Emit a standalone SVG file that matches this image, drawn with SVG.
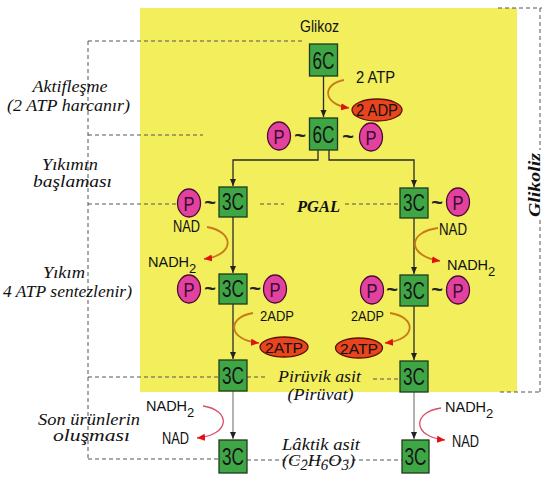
<svg xmlns="http://www.w3.org/2000/svg" width="545" height="490" viewBox="0 0 545 490">
<defs>
<style>
.sans{font-family:"Liberation Sans",Arial,sans-serif;fill:#111}
.nh{font-family:"Liberation Sans",Arial,sans-serif;fill:#111;font-size:14.5px}
.it{font-family:"Liberation Serif","Times New Roman",serif;font-style:italic;fill:#111;font-size:17px}
.box{fill:#3fa646;stroke:#1c3a1c;stroke-width:1.3}
.boxt{font-family:"Liberation Sans",Arial,sans-serif;font-size:23px;fill:#151515;text-anchor:middle}
.p{fill:#e2429e;stroke:#4a0c36;stroke-width:1.3}
.pt{font-family:"Liberation Sans",Arial,sans-serif;font-size:21px;fill:#3a0a30;text-anchor:middle}
.tl{font-family:"Liberation Sans",Arial,sans-serif;font-size:20px;font-weight:bold;fill:#222;text-anchor:middle}
.red{fill:#e8441e;stroke:#5a1208;stroke-width:1.3}
.dash{fill:none;stroke:#555;stroke-width:1;stroke-dasharray:4 3}
.arr{fill:none;stroke:#2a2a2a;stroke-width:1.3;marker-end:url(#ad)}
.arrg{fill:none;stroke:#666;stroke-width:1;marker-end:url(#ad)}
.cur{fill:none;stroke:#c77a17;stroke-width:1.8;marker-end:url(#ar)}
.curp{fill:none;stroke:#d8506a;stroke-width:1.3;marker-end:url(#ar)}
</style>
<marker id="ad" markerWidth="8" markerHeight="8" refX="7" refY="4" orient="auto" markerUnits="userSpaceOnUse"><path d="M0,1 L7,4 L0,7 z" fill="#222"/></marker>
<marker id="ar" markerWidth="9" markerHeight="9" refX="8" refY="4.5" orient="auto" markerUnits="userSpaceOnUse"><path d="M0,1 L8,4.5 L0,8 z" fill="#e41010"/></marker>
</defs>
<rect width="545" height="490" fill="#ffffff"/>
<rect x="140" y="8" width="377" height="384" fill="#f2ee5c"/>

<g id="guides">
<path class="dash" d="M88,41 H303 M88,41 V459 M88,135 H203 M88,204 H177 M260,204 H284 M345,204 H399 M88,377 H219 M247,377 H268 M373,379 H400 M88,459 H219 M247,460 H402"/>
<path class="dash" d="M498,8 H542 M540,8 V150 M540,220 V392 M500,392 H542"/>
</g>

<g id="connectors">
<path class="arr" d="M323.5,76 V117"/>
<path class="arr" d="M318,150 V160 H233 V186"/>
<path class="arr" d="M329,150 V160 H414 V187"/>
<path class="arr" d="M233,217 V273"/>
<path class="arr" d="M414,218 V274"/>
<path class="arr" d="M233,304 V359"/>
<path class="arr" d="M414,306 V360"/>
<path class="arrg" d="M233,391 V439"/>
<path class="arrg" d="M414,392 V439"/>
<path class="cur" d="M344,80 C322,84 322,104 349,108"/>
<path class="cur" d="M207,227 C235,232 235,255 204,259"/>
<path class="cur" d="M438,228 C407,232 407,256 440,261"/>
<path class="cur" d="M253,313 C227,317 227,340 259,343"/>
<path class="cur" d="M390,313 C417,317 417,340 385,343"/>
<path class="curp" d="M203,406 C231,410 231,435 197,438"/>
<path class="curp" d="M441,408 C412,412 412,437 445,440"/>
</g>

<g id="glikoz">
<text class="sans" x="319.5" y="32" font-size="16" text-anchor="middle" textLength="39" lengthAdjust="spacingAndGlyphs">Glikoz</text>
<rect class="box" x="309.5" y="44" width="28" height="32"/>
<text class="boxt" x="323.5" y="68.5" textLength="22" lengthAdjust="spacingAndGlyphs">6C</text>
</g>

<g id="atp-in">
<text class="sans" x="375.5" y="83" font-size="17" text-anchor="middle" textLength="39" lengthAdjust="spacingAndGlyphs">2 ATP</text>
<ellipse class="red" cx="377" cy="110" rx="25" ry="11"/>
<text class="sans" x="377" y="116" font-size="16" text-anchor="middle" textLength="42" lengthAdjust="spacingAndGlyphs">2 ADP</text>
</g>

<g id="fructose">
<ellipse class="p" cx="279" cy="136" rx="11.5" ry="14"/>
<text class="pt" x="279" y="143.5" textLength="11" lengthAdjust="spacingAndGlyphs">P</text>
<text class="tl" x="300" y="142">~</text>
<rect class="box" x="309.5" y="118" width="28" height="32"/>
<text class="boxt" x="323.5" y="142.5" textLength="22" lengthAdjust="spacingAndGlyphs">6C</text>
<text class="tl" x="348" y="143">~</text>
<ellipse class="p" cx="371" cy="137" rx="11.5" ry="14"/>
<text class="pt" x="371" y="144.5" textLength="11" lengthAdjust="spacingAndGlyphs">P</text>
</g>

<g id="pgal-left">
<ellipse class="p" cx="189" cy="203" rx="11.5" ry="14"/>
<text class="pt" x="189" y="210.5" textLength="11" lengthAdjust="spacingAndGlyphs">P</text>
<text class="tl" x="210" y="209">~</text>
<rect class="box" x="219" y="187" width="28" height="30"/>
<text class="boxt" x="233" y="210" textLength="22" lengthAdjust="spacingAndGlyphs">3C</text>
</g>

<g id="pgal-label">
<text class="it" x="318.5" y="212" text-anchor="middle" font-weight="bold" textLength="43" lengthAdjust="spacingAndGlyphs">PGAL</text>
</g>

<g id="pgal-right">
<rect class="box" x="400" y="188" width="28" height="30"/>
<text class="boxt" x="414" y="211" textLength="22" lengthAdjust="spacingAndGlyphs">3C</text>
<text class="tl" x="437" y="209">~</text>
<ellipse class="p" cx="458" cy="202" rx="11.5" ry="14"/>
<text class="pt" x="458" y="209.5" textLength="11" lengthAdjust="spacingAndGlyphs">P</text>
</g>

<g id="nad-left">
<text class="sans" x="173" y="232" font-size="16" textLength="27" lengthAdjust="spacingAndGlyphs">NAD</text>
<text class="nh" x="148" y="267">NADH<tspan dy="6" font-size="13">2</tspan></text>
</g>
<g id="nad-right">
<text class="sans" x="439" y="235" font-size="16" textLength="28" lengthAdjust="spacingAndGlyphs">NAD</text>
<text class="nh" x="447" y="270">NADH<tspan dy="6" font-size="13">2</tspan></text>
</g>

<g id="bpg-left">
<ellipse class="p" cx="189" cy="289" rx="11.5" ry="14"/>
<text class="pt" x="189" y="296.5" textLength="11" lengthAdjust="spacingAndGlyphs">P</text>
<text class="tl" x="210" y="295">~</text>
<rect class="box" x="219" y="274" width="28" height="30"/>
<text class="boxt" x="233" y="297" textLength="22" lengthAdjust="spacingAndGlyphs">3C</text>
<text class="tl" x="255" y="295">~</text>
<ellipse class="p" cx="275" cy="289" rx="11.5" ry="14"/>
<text class="pt" x="275" y="296.5" textLength="11" lengthAdjust="spacingAndGlyphs">P</text>
</g>

<g id="bpg-right">
<ellipse class="p" cx="372" cy="290" rx="11.5" ry="14"/>
<text class="pt" x="372" y="297.5" textLength="11" lengthAdjust="spacingAndGlyphs">P</text>
<text class="tl" x="392" y="296">~</text>
<rect class="box" x="400" y="275" width="28" height="31"/>
<text class="boxt" x="414" y="298.5" textLength="22" lengthAdjust="spacingAndGlyphs">3C</text>
<text class="tl" x="437" y="296">~</text>
<ellipse class="p" cx="458" cy="290" rx="11.5" ry="14"/>
<text class="pt" x="458" y="297.5" textLength="11" lengthAdjust="spacingAndGlyphs">P</text>
</g>

<g id="atp-left">
<text class="sans" x="260" y="321" font-size="15" textLength="34" lengthAdjust="spacingAndGlyphs">2ADP</text>
<ellipse class="red" cx="284" cy="347" rx="24" ry="10"/>
<text class="sans" x="284" y="353" font-size="15" text-anchor="middle" textLength="38" lengthAdjust="spacingAndGlyphs">2ATP</text>
</g>
<g id="atp-right">
<text class="sans" x="351" y="321" font-size="15" textLength="33" lengthAdjust="spacingAndGlyphs">2ADP</text>
<ellipse class="red" cx="359" cy="348" rx="23.5" ry="10"/>
<text class="sans" x="359" y="354" font-size="15" text-anchor="middle" textLength="38" lengthAdjust="spacingAndGlyphs">2ATP</text>
</g>

<g id="pyruvate">
<rect class="box" x="219" y="360" width="28" height="31"/>
<text class="boxt" x="233" y="383.5" textLength="22" lengthAdjust="spacingAndGlyphs">3C</text>
<text class="it" x="319.5" y="382" text-anchor="middle" textLength="83" lengthAdjust="spacingAndGlyphs">Pirüvik asit</text>
<text class="it" x="320.5" y="400" text-anchor="middle" textLength="66" lengthAdjust="spacingAndGlyphs">(Pirüvat)</text>
<rect class="box" x="400" y="361" width="28" height="31"/>
<text class="boxt" x="414" y="384.5" textLength="22" lengthAdjust="spacingAndGlyphs">3C</text>
</g>

<g id="nadh-bottom">
<text class="nh" x="146" y="411">NADH<tspan dy="6" font-size="13">2</tspan></text>
<text class="sans" x="162" y="444" font-size="16" textLength="27" lengthAdjust="spacingAndGlyphs">NAD</text>
<text class="nh" x="445" y="412">NADH<tspan dy="6" font-size="13">2</tspan></text>
<text class="sans" x="452" y="447" font-size="16" textLength="27" lengthAdjust="spacingAndGlyphs">NAD</text>
</g>

<g id="lactate">
<rect class="box" x="219" y="440" width="28" height="33"/>
<text class="boxt" x="233" y="464.5" textLength="22" lengthAdjust="spacingAndGlyphs">3C</text>
<text class="it" x="321" y="450" text-anchor="middle" textLength="78" lengthAdjust="spacingAndGlyphs">Lâktik asit</text>
<text class="it" x="282" y="466" textLength="73" lengthAdjust="spacingAndGlyphs">(C<tspan dy="4" font-size="14">2</tspan><tspan dy="-4">H</tspan><tspan dy="4" font-size="14">6</tspan><tspan dy="-4">O</tspan><tspan dy="4" font-size="14">3</tspan><tspan dy="-4">)</tspan></text>
<rect class="box" x="402" y="440" width="27" height="33"/>
<text class="boxt" x="415.5" y="464.5" textLength="22" lengthAdjust="spacingAndGlyphs">3C</text>
</g>

<g id="stage-labels">
<text class="it" x="70" y="92" text-anchor="middle" textLength="75" lengthAdjust="spacingAndGlyphs">Aktifleşme</text>
<text class="it" x="68.5" y="111" text-anchor="middle" textLength="123" lengthAdjust="spacingAndGlyphs">(2 ATP harcanır)</text>
<text class="it" x="70" y="170" text-anchor="middle" textLength="56" lengthAdjust="spacingAndGlyphs">Yıkımın</text>
<text class="it" x="72.5" y="187" text-anchor="middle" textLength="79" lengthAdjust="spacingAndGlyphs">başlaması</text>
<text class="it" x="64" y="278" text-anchor="middle" textLength="42" lengthAdjust="spacingAndGlyphs">Yıkım</text>
<text class="it" x="67.5" y="297" text-anchor="middle" textLength="129" lengthAdjust="spacingAndGlyphs">4 ATP sentezlenir)</text>
<text class="it" x="89" y="425" text-anchor="middle" textLength="102" lengthAdjust="spacingAndGlyphs">Son ürünlerin</text>
<text class="it" x="91.5" y="441" text-anchor="middle" textLength="77" lengthAdjust="spacingAndGlyphs">oluşması</text>
<text class="it" transform="translate(540,185) rotate(-90)" text-anchor="middle" font-weight="bold" textLength="64" lengthAdjust="spacingAndGlyphs">Glikoliz</text>
</g>
</svg>
